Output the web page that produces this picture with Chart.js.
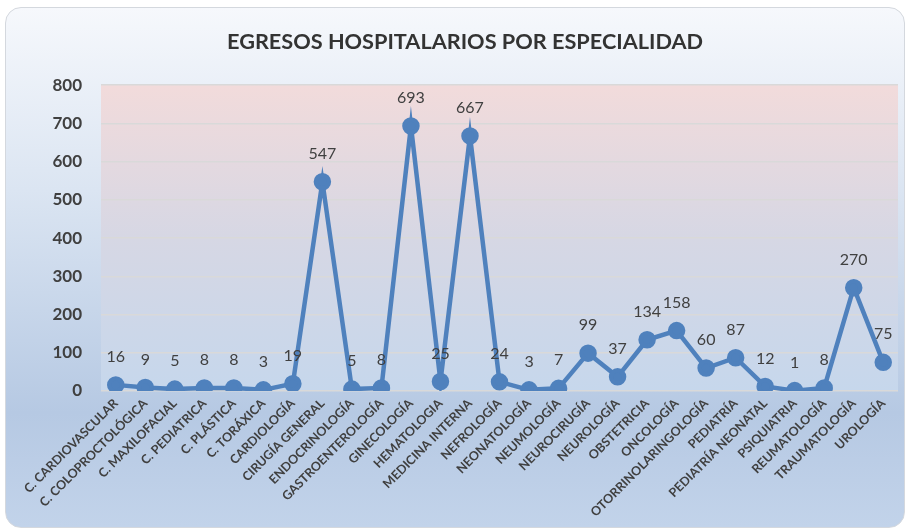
<!DOCTYPE html>
<html>
<head>
<meta charset="utf-8">
<script src="https://cdn.jsdelivr.net/npm/chart.js@4.4.1/dist/chart.umd.min.js"></script>
<style>
  html, body { margin: 0; padding: 0; background: #ffffff; }
  #box {
    position: absolute; left: 5px; top: 7px; width: 898px; height: 519px;
    border: 1px solid #d4d8de; border-radius: 16px;
    background: linear-gradient(to bottom, #f6f8fc 0%, #dbe5f2 35%, #b6c9e3 78%, #c2d3ea 100%);
  }
  #wrap { position: absolute; left: 0; top: 0; width: 909px; height: 531px; }
</style>
</head>
<body>
<div id="box"></div>
<div id="wrap"><canvas id="c" width="909" height="531"></canvas></div>
<script>
var categories = ['C. CARDIOVASCULAR', 'C. COLOPROCTOLÓGICA', 'C. MAXILOFACIAL', 'C. PEDIATRICA',
  'C. PLÁSTICA', 'C. TORÁXICA', 'CARDIOLOGÍA', 'CIRUGÍA GENERAL', 'ENDOCRINOLOGÍA',
  'GASTROENTEROLOGÍA', 'GINECOLOGÍA', 'HEMATOLOGIA', 'MEDICINA INTERNA', 'NEFROLOGÍA',
  'NEONATOLOGÍA', 'NEUMOLOGÍA', 'NEUROCIRUGÍA', 'NEUROLOGÍA', 'OBSTETRICIA', 'ONCOLOGÍA',
  'OTORRINOLARINGOLOGÍA', 'PEDIATRÍA', 'PEDIATRÍA NEONATAL', 'PSIQUIATRIA', 'REUMATOLOGÍA',
  'TRAUMATOLOGÍA', 'UROLOGÍA'];

var egresos = [16, 9, 5, 8, 8, 3, 19, 547, 5, 8, 693, 25, 667, 24, 3, 7, 99, 37, 134, 158,
  60, 87, 12, 1, 8, 270, 75];

var yTicks = [0, 100, 200, 300, 400, 500, 600, 700, 800];

var fontName = 'Lato, "Open Sans", sans-serif';

// fondo del area de trazado (rosa arriba, azul abajo)
var plotBg = {
  id: 'plotBg',
  beforeDraw: function(chart) {
    var a = chart.chartArea, ctx = chart.ctx;
    var g = ctx.createLinearGradient(0, a.top, 0, a.bottom);
    g.addColorStop(0, '#f2dbdb');
    g.addColorStop(0.5, '#d6d7e4');
    g.addColorStop(1, '#c6d7ec');
    ctx.save();
    ctx.fillStyle = g;
    ctx.fillRect(a.left, a.top, a.right - a.left, a.bottom - a.top);
    ctx.restore();
  }
};

// etiquetas de valores encima de cada punto
var valueLabels = {
  id: 'valueLabels',
  afterDatasetsDraw: function(chart) {
    var ctx = chart.ctx;
    var meta = chart.getDatasetMeta(0);
    ctx.save();
    ctx.font = '16px ' + fontName;
    ctx.fillStyle = '#404040';
    ctx.textAlign = 'center';
    ctx.textBaseline = 'middle';
    meta.data.forEach(function(pt, i) {
      ctx.fillText(String(egresos[i]), pt.x, pt.y - 28);
    });
    ctx.restore();
  }
};

new Chart(document.getElementById('c'), {
  type: 'line',
  data: {
    labels: categories,
    datasets: [{
      label: 'Egresos',
      data: egresos,
      borderColor: '#4f81bd',
      backgroundColor: '#4f81bd',
      borderWidth: 4.5,
      pointRadius: 6.5,
      pointHoverRadius: 6.5,
      pointBackgroundColor: '#4f81bd',
      pointBorderColor: '#4f81bd',
      tension: 0
    }]
  },
  options: {
    responsive: false,
    animation: false,
    layout: { padding: { left: 29, right: 8, top: 0, bottom: 0 } },
    plugins: {
      legend: { display: false },
      tooltip: { enabled: false },
      title: {
        display: true,
        text: 'EGRESOS HOSPITALARIOS POR ESPECIALIDAD',
        color: '#333333',
        font: { family: fontName, size: 21.7, weight: 'bold' },
        padding: { top: 29, bottom: 30 }
      }
    },
    scales: {
      x: {
        offset: true,
        afterFit: function(s) { s.height = 140; },
        grid: { display: false, drawTicks: false },
        border: { display: false },
        ticks: {
          autoSkip: false,
          minRotation: 45,
          maxRotation: 45,
          padding: 5,
          color: '#404040',
          font: { family: fontName, size: 12.5, weight: 'bold' }
        }
      },
      y: {
        min: 0,
        max: 800,
        afterFit: function(s) { s.width = 72; },
        afterBuildTicks: function(s) { s.ticks = yTicks.map(function(v) { return { value: v }; }); },
        grid: { color: '#d9d9d9', lineWidth: 1.5, drawTicks: false },
        border: { display: false },
        ticks: {
          padding: 19,
          color: '#404040',
          font: { family: fontName, size: 17, weight: 'bold' }
        }
      }
    }
  },
  plugins: [plotBg, valueLabels]
});
</script>
</body>
</html>
